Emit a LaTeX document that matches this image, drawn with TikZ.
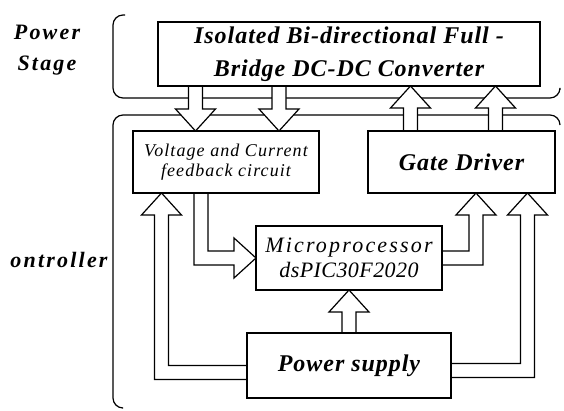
\documentclass[tikz,border=0pt]{standalone}
\usepackage{fontspec}
\setmainfont{Liberation Serif}
\usetikzlibrary{calc,positioning,backgrounds}
\newfontfamily\labelfont[LetterSpace=4]{Liberation Serif}
\newfontfamily\sidefont[LetterSpace=10]{Liberation Serif}
\newfontfamily\feedfont[LetterSpace=6]{Liberation Serif}
\newfontfamily\mcufont[LetterSpace=10]{Liberation Serif}
\newfontfamily\partfont[LetterSpace=2]{Liberation Serif}

% hollow block arrows: #1 from, #2 to, #3 x of shaft, #4 dir (1 up, -1 down)
\newcommand{\vblock}[4]{%
  \draw[blockarrow] let \p1=(#1), \p2=(#2) in
    ({#3pt-7pt},\y1) -- ({#3pt-7pt},{\y2-(#4)*22pt}) -- ({#3pt-20pt},{\y2-(#4)*22pt})
    -- ({#3pt},\y2) -- ({#3pt+20pt},{\y2-(#4)*22pt}) -- ({#3pt+7pt},{\y2-(#4)*22pt})
    -- ({#3pt+7pt},\y1);}
% down, then right: #1 from, #2 x of shaft, #3 to
\newcommand{\vhblock}[3]{%
  \draw[blockarrow] let \p1=(#1), \p2=(#3) in
    ({#2pt-7pt},\y1) -- ({#2pt-7pt},{\y2-7pt}) -- ({\x2-22pt},{\y2-7pt})
    -- ({\x2-22pt},{\y2-20pt}) -- (\x2,\y2) -- ({\x2-22pt},{\y2+20pt})
    -- ({\x2-22pt},{\y2+7pt}) -- ({#2pt+7pt},{\y2+7pt}) -- ({#2pt+7pt},\y1);}
% sideways, then up: #1 from, #2 x of shaft, #3 to, #4 dir (1 right, -1 left)
\newcommand{\hvblock}[4]{%
  \draw[blockarrow] let \p1=(#1), \p2=(#3) in
    (\x1,{\y1-7pt}) -- ({#2pt+(#4)*7pt},{\y1-7pt}) -- ({#2pt+(#4)*7pt},{\y2-22pt})
    -- ({#2pt+(#4)*20pt},{\y2-22pt}) -- ({#2pt},\y2) -- ({#2pt-(#4)*20pt},{\y2-22pt})
    -- ({#2pt-(#4)*7pt},{\y2-22pt}) -- ({#2pt-(#4)*7pt},{\y1+7pt}) -- (\x1,{\y1+7pt});}

\begin{document}
\begin{tikzpicture}[x=1pt,y=1pt,
  block/.style={draw,line width=1.2pt,inner sep=0pt,outer sep=0pt,align=center},
  boldtext/.style={font=\labelfont\bfseries\itshape\fontsize{24}{33}\selectfont},
  region/.style={draw,line width=1.2pt,rounded corners=10pt},
  blockarrow/.style={draw,fill=white,line width=1.2pt,line join=miter},
  sidelabel/.style={align=center,font=\sidefont\bfseries\itshape\fontsize{22}{31}\selectfont}]
\useasboundingbox (0,0) rectangle (564,410);

\node[block,boldtext,minimum width=382pt,minimum height=64pt] (conv) at (349,356)
  {Isolated Bi-directional Full -\\Bridge DC-DC Converter};
\node[block,minimum width=186pt,minimum height=62pt,font=\feedfont\itshape\fontsize{18}{20}\selectfont] (feedback) at (226,248)
  {Voltage and Current\\feedback circuit};
\node[block,boldtext,minimum width=187pt,minimum height=62pt] (gate) at (461.5,248) {Gate Driver};
\node[block,minimum width=186pt,minimum height=64pt,font=\itshape\fontsize{22}{25}\selectfont,below=140pt of conv] (mcu)
  {{\mcufont Microprocessor}\\{\partfont dsPIC30F2020}};
\node[block,boldtext,minimum width=204pt,minimum height=65pt,below=43pt of mcu] (supply) {Power supply};

\node[sidelabel] (stagelbl) at (47,360) {Power\\Stage};
\node[sidelabel] (ctrllbl) at (59,150) {ontroller};

\begin{scope}[on background layer]
% stage brackets
\draw[region] (125,395) -- (113,395) -- (113,312) -- (560,312) -- (560,320);
\draw[region] (560,285) -- (560,295) -- (113,295) -- (113,2) -- (122,2);
% power stage <-> controller
\vblock{conv.south}{feedback.north}{195.5}{-1}
\vblock{conv.south}{feedback.north}{279}{-1}
\vblock{gate.north}{conv.south}{410.5}{1}
\vblock{gate.north}{conv.south}{495.5}{1}
% controller
\vhblock{feedback.south}{201}{mcu.west}
\hvblock{mcu.east}{476}{gate.south}{1}
\vblock{supply.north}{mcu.south}{349}{1}
\hvblock{$(supply.west)+(0,-7)$}{161.5}{feedback.south}{-1}
\hvblock{$(supply.east)+(0,-5)$}{527.5}{gate.south}{1}
\end{scope}
\end{tikzpicture}
\end{document}
